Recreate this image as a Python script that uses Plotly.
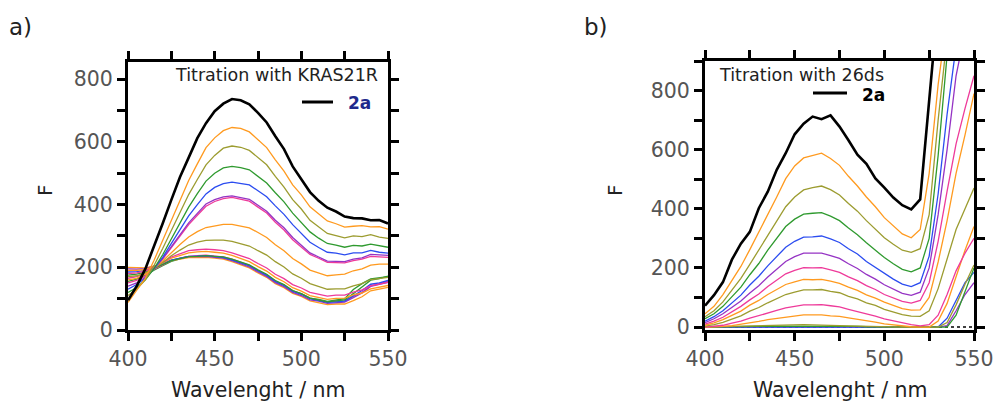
import plotly.graph_objects as go

# ---------------- data ----------------
wavelength = [400, 405, 410, 415, 420, 425, 430, 435, 440, 445, 450, 455, 460, 465, 470, 475,
              480, 485, 490, 495, 500, 505, 510, 515, 520, 525, 530, 535, 540, 545, 550]

# Panel a: titration with KRAS21R
a_2a = [95, 140, 195, 265, 340, 415, 488, 550, 612, 660, 698, 722, 737, 733, 720, 693,
        662, 618, 577, 522, 480, 440, 412, 390, 378, 362, 357, 356, 350, 351, 340]
a_c01 = [88, 125, 165, 222, 285, 352, 415, 477, 530, 582, 613, 636, 646, 643, 632, 608,
         582, 543, 507, 463, 431, 393, 371, 348, 339, 328, 331, 333, 329, 330, 322]
a_c02 = [110, 130, 160, 206, 260, 317, 375, 432, 480, 527, 557, 580, 587, 583, 573, 550,
         527, 490, 456, 416, 386, 350, 329, 308, 301, 294, 300, 298, 304, 296, 292]
a_c03 = [120, 135, 160, 196, 240, 291, 340, 392, 435, 475, 500, 517, 522, 518, 511, 490,
         469, 438, 409, 373, 343, 313, 293, 276, 271, 264, 270, 268, 274, 268, 264]
a_c04 = [130, 145, 165, 196, 232, 276, 318, 364, 400, 434, 455, 467, 472, 468, 463, 444,
         425, 396, 369, 336, 309, 280, 263, 248, 245, 240, 246, 246, 254, 248, 245]
a_c05 = [140, 150, 168, 196, 228, 266, 303, 342, 372, 402, 416, 425, 428, 422, 417, 398,
         379, 350, 326, 295, 271, 246, 233, 220, 219, 218, 226, 230, 241, 240, 238]
a_c06 = [150, 158, 172, 197, 226, 263, 298, 336, 366, 395, 410, 419, 423, 416, 411, 392,
         373, 344, 319, 288, 265, 241, 229, 216, 215, 214, 221, 226, 235, 234, 232]
a_c07 = [160, 165, 178, 197, 220, 248, 273, 297, 314, 327, 333, 337, 337, 332, 326, 311,
         295, 272, 253, 228, 211, 191, 182, 173, 176, 178, 189, 195, 207, 210, 210]
a_c08 = [170, 173, 182, 197, 215, 237, 255, 271, 280, 286, 287, 287, 283, 276, 268, 253,
         239, 218, 201, 179, 165, 148, 140, 130, 131, 131, 141, 148, 161, 164, 168]
a_c09 = [180, 182, 188, 201, 215, 233, 244, 253, 256, 258, 256, 253, 246, 237, 228, 212,
         198, 178, 164, 145, 134, 120, 115, 108, 111, 111, 121, 128, 141, 146, 152]
a_c10 = [190, 190, 193, 203, 214, 229, 238, 246, 249, 251, 248, 245, 238, 228, 218, 202,
         188, 168, 154, 135, 124, 110, 105, 98, 101, 102, 112, 118, 131, 136, 142]
a_c11 = [175, 178, 185, 197, 208, 221, 228, 234, 235, 237, 235, 233, 226, 217, 208, 192,
         178, 158, 145, 126, 116, 102, 97, 90, 93, 96, 116, 138, 159, 164, 172]
a_c12 = [185, 186, 190, 199, 210, 223, 230, 235, 236, 237, 234, 231, 224, 214, 205, 189,
         175, 155, 142, 124, 114, 100, 95, 88, 90, 92, 109, 126, 146, 150, 158]
a_c13 = [195, 194, 196, 203, 212, 223, 229, 234, 234, 235, 232, 229, 221, 211, 201, 185,
         171, 151, 138, 120, 110, 96, 92, 85, 88, 89, 103, 118, 139, 146, 152]
a_c14 = [165, 170, 180, 194, 207, 221, 229, 235, 237, 239, 236, 233, 226, 216, 206, 190,
         176, 156, 143, 125, 115, 101, 96, 89, 92, 93, 106, 120, 141, 148, 155]
a_c15 = [200, 198, 198, 204, 211, 221, 226, 231, 231, 232, 229, 226, 218, 208, 198, 182,
         168, 148, 135, 117, 107, 93, 88, 81, 83, 83, 94, 106, 125, 130, 136]
a_c16 = [155, 162, 174, 191, 205, 219, 227, 233, 235, 237, 234, 231, 224, 214, 205, 189,
         175, 155, 142, 125, 115, 102, 98, 91, 95, 100, 129, 148, 163, 166, 170]

# Panel b: titration with 26ds
b_2a = [72, 108, 152, 228, 282, 322, 402, 458, 532, 588, 652, 688, 712, 703, 716, 678,
        632, 583, 552, 503, 472, 438, 412, 398, 432, 760, 1100, 1200, 1200, 1200, 1200]
b_c01 = [45, 70, 110, 156, 205, 262, 320, 382, 440, 502, 545, 572, 580, 588, 570, 547,
         510, 477, 440, 407, 370, 342, 315, 302, 330, 520, 820, 1050, 1200, 1300, 1400]
b_c02 = [35, 55, 85, 127, 165, 212, 260, 312, 360, 407, 440, 464, 472, 477, 465, 447,
         418, 392, 360, 332, 302, 280, 260, 253, 265, 380, 700, 980, 1200, 1300, 1400]
b_c03 = [28, 45, 70, 102, 135, 177, 215, 260, 300, 340, 365, 382, 385, 387, 375, 360,
         335, 312, 285, 260, 235, 214, 195, 187, 200, 300, 580, 920, 1100, 1200, 1300]
b_c04 = [20, 35, 55, 82, 108, 142, 172, 207, 238, 270, 290, 304, 305, 308, 298, 286,
         265, 247, 222, 202, 180, 162, 145, 137, 150, 240, 450, 720, 950, 1100, 1200]
b_c05 = [15, 28, 45, 67, 88, 115, 140, 169, 195, 222, 238, 250, 250, 250, 242, 232,
         214, 198, 178, 162, 143, 129, 114, 107, 118, 200, 380, 600, 850, 1000, 1100]
b_c06 = [10, 20, 33, 52, 70, 92, 112, 137, 158, 180, 192, 201, 200, 201, 193, 185,
         170, 157, 140, 127, 110, 99, 87, 81, 90, 150, 290, 460, 620, 740, 850]
b_c07 = [6, 14, 25, 40, 54, 74, 90, 110, 126, 144, 153, 161, 160, 161, 155, 148,
         135, 124, 109, 98, 84, 74, 62, 57, 58, 100, 220, 360, 520, 650, 790]
b_c08 = [3, 8, 16, 28, 38, 54, 66, 82, 95, 110, 118, 126, 126, 127, 121, 116,
         104, 95, 82, 73, 60, 52, 42, 37, 36, 55, 130, 230, 330, 400, 470]
b_c09 = [0, 2, 6, 13, 20, 30, 38, 48, 56, 65, 70, 75, 75, 76, 72, 68,
         60, 53, 44, 37, 28, 21, 13, 8, 4, 8, 40, 110, 190, 250, 300]
b_c10 = [0, 0, 2, 5, 9, 15, 19, 25, 29, 35, 38, 41, 41, 41, 38, 36,
         31, 27, 21, 17, 11, 8, 3, 1, 0, 0, 20, 80, 170, 260, 340]
b_c11 = [0, 0, 1, 2, 3, 4, 5, 6, 6, 7, 7, 8, 7, 7, 6, 5,
         4, 3, 2, 1, 0, 0, 0, 0, 0, 0, 0, 15, 75, 145, 210]
b_c12 = [0, 0, 0, 1, 1, 2, 2, 3, 3, 4, 4, 4, 4, 3, 3, 3,
         2, 2, 1, 1, 0, 0, 0, 0, 0, 0, 0, 0, 40, 120, 200]
b_c13 = [0, 0, 0, 0, 1, 1, 1, 2, 2, 2, 2, 2, 2, 2, 2, 1,
         1, 1, 0, 0, 0, 0, 0, 0, 0, 0, 0, 30, 90, 150, 185]
b_c14 = [0, 0, 0, 0, 0, 1, 1, 1, 1, 1, 1, 1, 1, 1, 1, 1,
         0, 0, 0, 0, 0, 0, 0, 0, 0, 0, 0, 5, 55, 110, 150]
b_blank = [0] * 31

ORANGE, OLIVE, GREEN, BLUE, PURPLE, PINK = "#ff9a1f", "#9c9c30", "#2f9a2f", "#2b4cf0", "#9533c4", "#ee3a9a"

a_curves = [a_c01, a_c02, a_c03, a_c04, a_c05, a_c06, a_c07, a_c08, a_c09, a_c10,
            a_c11, a_c12, a_c13, a_c14, a_c15, a_c16]
a_colors = [ORANGE, OLIVE, GREEN, BLUE, PURPLE, PINK, ORANGE, OLIVE, PINK, ORANGE,
            GREEN, BLUE, PURPLE, PINK, ORANGE, GREEN]
b_curves = [b_c01, b_c02, b_c03, b_c04, b_c05, b_c06, b_c07, b_c08, b_c09, b_c10,
            b_c11, b_c12, b_c13, b_c14]
b_colors = [ORANGE, OLIVE, GREEN, BLUE, PURPLE, PINK, ORANGE, OLIVE, PINK, ORANGE,
            OLIVE, GREEN, BLUE, PURPLE]

fig = go.Figure()

for vals, col in reversed(list(zip(a_curves, a_colors))):
    fig.add_trace(go.Scatter(x=wavelength, y=vals, mode="lines", line=dict(color=col, width=1.3),
                             xaxis="x", yaxis="y", showlegend=False))
fig.add_trace(go.Scatter(x=wavelength, y=a_2a, mode="lines", line=dict(color="black", width=2.6),
                         xaxis="x", yaxis="y", showlegend=False))

fig.add_trace(go.Scatter(x=wavelength, y=b_blank, mode="lines", line=dict(color="black", width=1.5, dash="dot"),
                         xaxis="x2", yaxis="y2", showlegend=False))
for vals, col in reversed(list(zip(b_curves, b_colors))):
    fig.add_trace(go.Scatter(x=wavelength, y=vals, mode="lines", line=dict(color=col, width=1.3),
                             xaxis="x2", yaxis="y2", showlegend=False))
fig.add_trace(go.Scatter(x=wavelength, y=b_2a, mode="lines", line=dict(color="black", width=2.6),
                         xaxis="x2", yaxis="y2", showlegend=False))

W, H = 996, 403
FONT = "DejaVu Sans"
tickfont = dict(family=FONT, size=20.5, color="#555555")


def xax(domain, anchor):
    return dict(domain=domain, anchor=anchor, range=[400, 550], tickvals=[400, 450, 500, 550],
                ticks="outside", ticklen=8, tickwidth=2.5, tickcolor="black",
                showline=True, linewidth=3, linecolor="black", mirror="ticks",
                showgrid=False, zeroline=False, tickfont=tickfont, automargin=False,
                minor=dict(dtick=25, tick0=400, ticks="outside", ticklen=8, tickwidth=2.5, tickcolor="black"))


def yax(domain, anchor, rng):
    return dict(domain=domain, anchor=anchor, range=rng, tickvals=[0, 200, 400, 600, 800],
                ticks="outside", ticklen=8, tickwidth=2.5, tickcolor="black",
                showline=True, linewidth=3, linecolor="black", mirror="ticks",
                showgrid=False, zeroline=False, tickfont=tickfont, automargin=False,
                minor=dict(dtick=100, tick0=0, ticks="outside", ticklen=8, tickwidth=2.5, tickcolor="black"))


ydom_a = [1 - 330 / H, 1 - 62 / H]
ydom_b = [1 - 330 / H, 1 - 61 / H]
fig.update_layout(
    width=W, height=H, margin=dict(l=0, r=0, t=0, b=0, pad=0, autoexpand=False),
    paper_bgcolor="white", plot_bgcolor="white", showlegend=False,
    xaxis=xax([128 / W, 388 / W], "y"),
    yaxis=yax(ydom_a, "x", [0, 855]),
    xaxis2=xax([705 / W, 974 / W], "y2"),
    yaxis2=yax(ydom_b, "x2", [-10, 900]),
)


def px(x):
    return x / W


def py(y):
    return 1 - y / H


ann = []
def text(x, y, s, size, color="#222222", bold=False, angle=0, xanchor="center"):
    ann.append(dict(x=px(x), y=py(y), xref="paper", yref="paper", text=(f"<b>{s}</b>" if bold else s),
                    showarrow=False, xanchor=xanchor, yanchor="middle", textangle=angle,
                    font=dict(family=FONT, size=size, color=color)))

text(7, 27, "a)", 23, xanchor="left")
text(582, 27, "b)", 23, xanchor="left")
text(258, 390, "Wavelenght / nm", 20.5)
text(840, 390, "Wavelenght / nm", 20.5)
text(45, 190, "F", 20, angle=-90)
text(615, 190, "F", 20, angle=-90)
text(380, 75, "Titration with KRAS21R", 17.5, xanchor="right")
text(346, 103, "2a", 17, color="#1f2a8c", bold=True, xanchor="left")
text(717, 75, "Titration with 26ds", 17.5, xanchor="left")
text(860, 95, "2a", 17, color="black", bold=True, xanchor="left")
fig.update_layout(annotations=ann)

fig.add_shape(type="line", xref="paper", yref="paper", x0=px(302), x1=px(333), y0=py(102), y1=py(102),
              line=dict(color="black", width=3))
fig.add_shape(type="line", xref="paper", yref="paper", x0=px(813), x1=px(847), y0=py(93), y1=py(93),
              line=dict(color="black", width=3))

fig.write_html("out.html")
